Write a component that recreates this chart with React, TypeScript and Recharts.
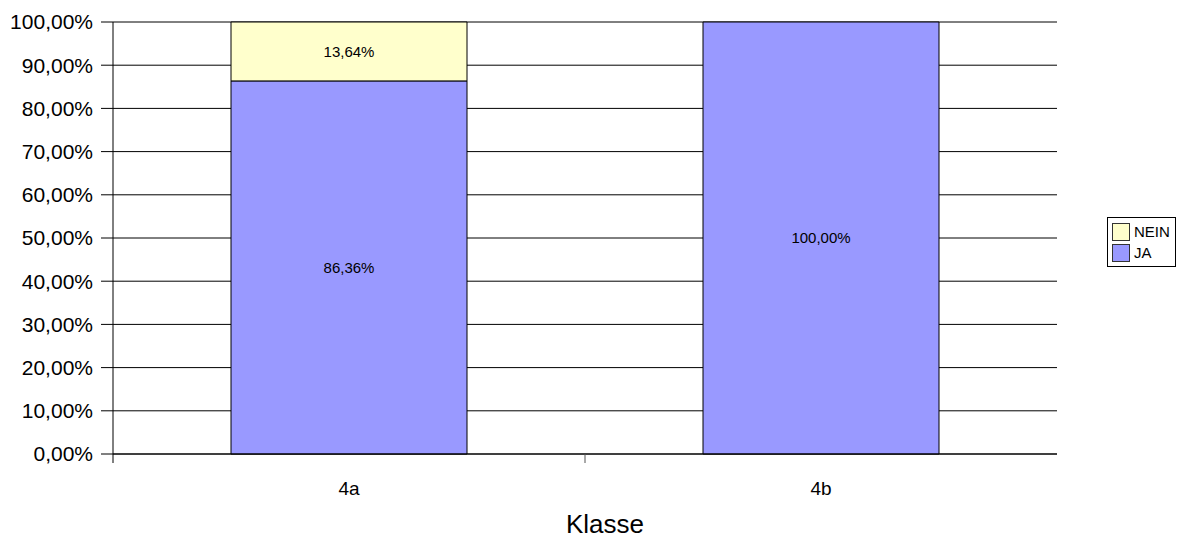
import {
  BarChart,
  Bar,
  XAxis,
  YAxis,
  CartesianGrid,
  LabelList,
} from 'recharts';

const classes = ['4a', '4b'];
const jaValues = [86.36, 100];
const neinValues = [13.64, 0];
const yTicks = [0, 10, 20, 30, 40, 50, 60, 70, 80, 90, 100];
const legendItems = [
  { name: 'NEIN', color: '#FFFFCC' },
  { name: 'JA', color: '#9999FF' },
];

const data = classes.map((klasse, i) => ({
  klasse,
  JA: jaValues[i],
  NEIN: neinValues[i],
}));

const W = 1192;
const H = 541;
const M = { top: 22, right: 135, left: 0, bottom: 0 };
const Y_W = 113;
const X_H = 87;
const BAND = (W - M.left - M.right - Y_W) / classes.length;

const font = 'Arial, "Liberation Sans", sans-serif';
const pct = (v: number) => `${v.toFixed(2).replace('.', ',')}%`;

function XTick({ x, y, payload, index }: any) {
  const half = BAND / 2;
  return (
    <g>
      {index === 0 && <line x1={x - half} x2={x - half} y1={y} y2={y + 9} stroke="#000" />}
      {index < classes.length - 1 && (
        <line x1={x + half} x2={x + half} y1={y} y2={y + 9} stroke="#555" />
      )}
      <text x={x} y={y + 41} textAnchor="middle" fontSize={19} fontFamily={font} fill="#000">
        {payload.value}
      </text>
    </g>
  );
}

function LegendBox() {
  return (
    <div
      style={{
        position: 'absolute',
        left: 1107,
        top: 217,
        border: '1px solid #000',
        padding: '3px 5px 3px 4px',
        fontFamily: font,
        fontSize: 15,
        background: '#fff',
      }}
    >
      {legendItems.map((it) => (
        <div key={it.name} style={{ display: 'flex', alignItems: 'center', height: 21 }}>
          <span
            style={{
              width: 16,
              height: 16,
              background: it.color,
              border: '1px solid #333',
              marginRight: 4,
              display: 'inline-block',
            }}
          />
          {it.name}
        </div>
      ))}
    </div>
  );
}

export default function App() {
  return (
    <div style={{ position: 'absolute', left: 0, top: 0, width: W, height: H, background: '#fff' }}>
      <BarChart width={W} height={H} data={data} margin={M} barCategoryGap="25%">
        <CartesianGrid vertical={false} stroke="#000" />
        <XAxis
          dataKey="klasse"
          height={X_H}
          tickSize={0}
          tickMargin={0}
          tick={<XTick />}
          axisLine={{ stroke: '#000' }}
          tickLine={false}
          label={{
            value: 'Klasse',
            position: 'insideBottom',
            offset: 8,
            dx: 20,
            fontSize: 26,
            fontFamily: font,
            fill: '#000',
          }}
        />
        <YAxis
          width={Y_W}
          domain={[0, 100]}
          ticks={yTicks}
          tickFormatter={pct}
          interval={0}
          axisLine={{ stroke: '#000' }}
          tickLine={{ stroke: '#000' }}
          tickSize={12}
          tickMargin={8}
          tick={{ fontSize: 21, fontFamily: font, fill: '#000' }}
        />
        <Bar dataKey="JA" stackId="a" fill="#9999FF" stroke="#000" isAnimationActive={false}>
          <LabelList
            dataKey="JA"
            position="center"
            formatter={(v: number) => (v ? pct(v) : '')}
            fontSize={15}
            fontFamily={font}
            fill="#000"
          />
        </Bar>
        <Bar dataKey="NEIN" stackId="a" fill="#FFFFCC" stroke="#000" isAnimationActive={false}>
          <LabelList
            dataKey="NEIN"
            position="center"
            formatter={(v: number) => (v ? pct(v) : '')}
            fontSize={15}
            fontFamily={font}
            fill="#000"
          />
        </Bar>
      </BarChart>
      <LegendBox />
    </div>
  );
}
